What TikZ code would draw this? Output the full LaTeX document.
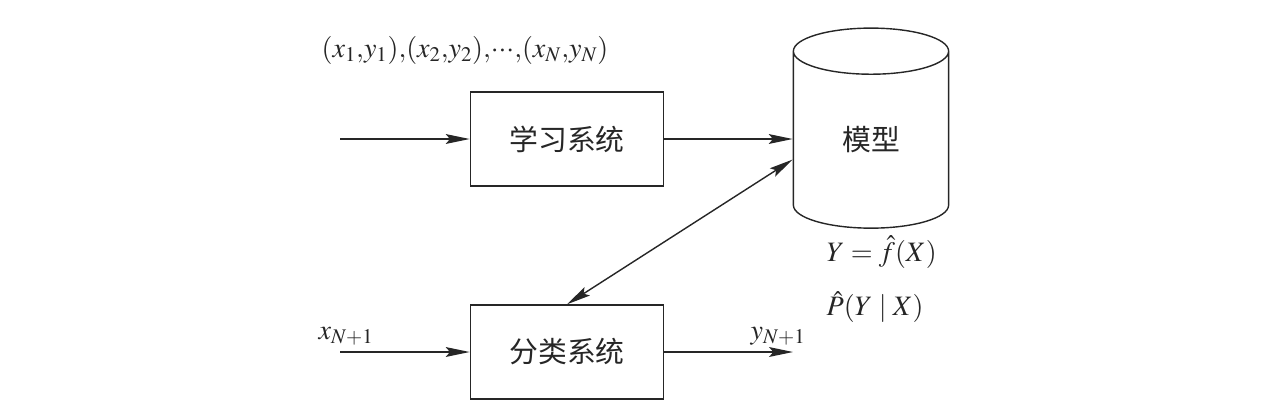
\documentclass[tikz,border=0pt]{standalone}
\usepackage{mathptmx}
\usepackage[no-math]{fontspec}
\setmainfont{Liberation Serif}
\newfontfamily\cjk{Noto Sans CJK SC}
\usetikzlibrary{arrows.meta}
\usetikzlibrary{shapes.geometric}
\tikzset{
    tnode/.style = {align=center, inner sep=0pt, text centered},
    sysbox/.style = {tnode, rectangle, draw, minimum width=4.83cm, minimum height=2.35cm, font=\cjk\fontsize{20.5}{24}\selectfont},
    store/.style = {tnode, cylinder, shape border rotate=90, aspect=0.8, draw, minimum width=3.88cm, minimum height=5cm, font=\cjk\fontsize{20.5}{24}\selectfont},
    mlabel/.style = {tnode, font=\fontsize{20}{24}\selectfont}
}

\begin{document}
\begin{tikzpicture}
            [x=0.025cm, y=-0.025cm, line width=1pt, color=black!85,
            >={Stealth[length=17pt, width=7pt, inset=3pt]}]
            \useasboundingbox (0,0) rectangle (1274,416);

            % the two systems and the model
            \node [sysbox] (learn) at (567,139) {学习系统};
            \node [sysbox] (classify) at (567,352) {分类系统};
            \node [store] (model) at (871,140) {模型};

            % labels
            \node [mlabel] (data) at (465,50) {$(x_1{,}y_1){,}(x_2{,}y_2){,}{\cdot}{\cdot}{\cdot}{,}(x_N{,}y_N)$};
            \node [mlabel] (xnew) at (346,336) {$x_{N+1}$};
            \node [mlabel] (ynew) at (778,336) {$y_{N+1}$};
            \node [mlabel, anchor=west] (fhat) at (826,252) {$Y=\hat{f}(X)$};
            \node [mlabel, anchor=west] (phat) at (826,307) {$\hat{P}(Y\mid X)$};

            % connectors
            \coordinate (in1) at (340,139);
            \coordinate (in2) at (340,352);
            \coordinate (out2) at (793,352);
            \draw [->] (in1) -- (learn.west);
            \draw [->] (learn.east) -- (learn.east -| model.west);
            \draw [<->] (classify.north) -- (model.194);
            \draw [->] (in2) -- (classify.west);
            \draw [->] (classify.east) -- (out2);
        \end{tikzpicture}
\end{document}
